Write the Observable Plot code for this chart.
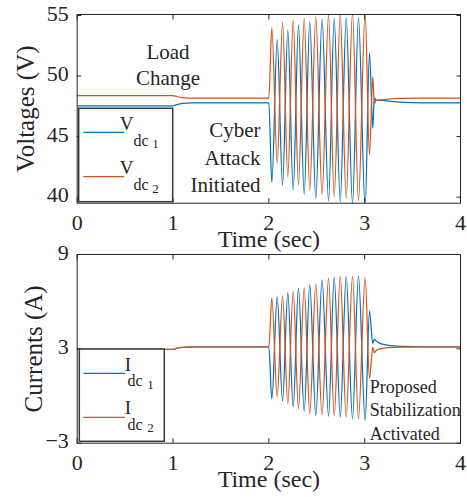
<!DOCTYPE html>
<html><head><meta charset="utf-8">
<script src="https://cdn.jsdelivr.net/npm/d3@7"></script>
<script src="https://cdn.jsdelivr.net/npm/@observablehq/plot@0.6"></script>
<style>
html,body{margin:0;padding:0;background:#fff;}
#wrap{position:relative;width:467px;height:497px;overflow:hidden;}
#wrap svg{position:absolute;left:0;overflow:visible;}
#wrap svg, #wrap svg text{font-family:"Liberation Serif","DejaVu Serif",serif !important;}
</style></head><body><div id="wrap"></div>
<script>
// ---- tick labels ----
const xTicks = [0, 1, 2, 3, 4];
const vTicks = [40, 45, 50, 55];
const iTicks = [-3, 3, 9];

// ---- pre-attack segment ----
const tPre = [0, 1.0, 1.04, 1.1, 1.2, 2.0];
const vdc1Pre = [47.54, 47.54, 47.64, 47.74, 47.79, 47.79];
const vdc2Pre = [48.39, 48.39, 48.31, 48.22, 48.17, 48.17];
const idc1Pre = [2.97, 2.97, 3.04, 3.10, 3.12, 3.12];
const idc2Pre = [2.97, 2.97, 3.04, 3.10, 3.12, 3.12];

// ---- oscillation extrema (times A: Vdc2/Idc2 peaks, times B: Vdc1/Idc1 peaks) ----
const tA = [2.031, 2.143, 2.254, 2.369, 2.490, 2.623, 2.745, 2.873, 3.005];
const tB = [2.087, 2.198, 2.309, 2.427, 2.555, 2.682, 2.807, 2.935, 3.050];
const vdc1A = [41.2, 41.0, 40.6, 40.25, 39.9, 39.7, 39.6, 39.45, 39.2];
const vdc1B = [53.0, 53.8, 54.2, 54.5, 54.7, 54.75, 54.8, 54.85, 51.9];
const vdc2A = [54.0, 54.4, 54.6, 54.75, 54.9, 55.05, 55.1, 55.2, 55.2];
const vdc2B = [42.8, 41.7, 41.0, 40.6, 40.25, 40.05, 39.9, 39.7, 43.5];
const idc1A = [-0.2, -0.33, -0.69, -0.97, -1.23, -1.28, -1.35, -1.44, -1.55];
const idc1B = [6.3, 6.58, 6.86, 7.07, 7.38, 7.54, 7.59, 7.62, 5.4];
const idc2A = [6.22, 6.37, 6.65, 6.9, 7.12, 7.5, 7.59, 7.6, 7.55];
const idc2B = [-0.05, -0.48, -0.8, -1.1, -1.2, -1.25, -1.33, -1.44, 1.12];

// ---- stabilisation segment ----
const tPost = [3.085, 3.1, 3.12, 3.16, 3.25, 3.4, 3.6, 4.0];
const vdc1Post = [45.7, 48.2, 48.0, 48.02, 47.92, 47.82, 47.79, 47.79];
const vdc2Post = [49.95, 47.7, 48.0, 48.02, 48.1, 48.15, 48.17, 48.17];
const idc1Post = [3.35, 3.6, 3.5, 3.35, 3.22, 3.15, 3.12, 3.12];
const idc2Post = [3.1, 2.75, 2.9, 3.0, 3.08, 3.11, 3.12, 3.12];

const BLUE = "#0072BD", ORANGE = "#D95319", INK = "#262626";

function buildRows(preV, vA, vB, postV) {
  const rows = [];
  tPre.forEach((t, i) => rows.push({t, v: preV[i]}));
  tA.forEach((t, i) => rows.push({t, v: vA[i]}));
  tB.forEach((t, i) => rows.push({t, v: vB[i]}));
  tPost.forEach((t, i) => rows.push({t, v: postV[i]}));
  return rows.sort((a, b) => a.t - b.t);
}

function panel({yDomain, yTicks, s1, s2, height, mt, mb, ylabel, ydx, notes}) {
  const blank = () => "";
  return Plot.plot({
    width: 467, height, marginLeft: 76.7, marginRight: 7, marginTop: mt, marginBottom: mb,
    style: {fontSize: "22px", color: INK, overflow: "visible", background: "transparent"},
    x: {domain: [0, 4]},
    y: {domain: yDomain},
    marks: [
      Plot.line(s1, {x: "t", y: "v", stroke: BLUE, strokeWidth: 1.25, curve: "monotone-x", clip: true}),
      Plot.line(s2, {x: "t", y: "v", stroke: ORANGE, strokeWidth: 1.25, curve: "monotone-x", clip: true}),
      Plot.frame({stroke: INK, strokeWidth: 1}),
      Plot.axisX(xTicks, {anchor: "bottom", tickSize: 0, tickPadding: 11, label: null, fontSize: 22}),
      Plot.axisY(yTicks, {anchor: "left", tickSize: 0, tickPadding: 8.4, label: null, fontSize: 22, dy: -2}),
      Plot.axisX(xTicks, {anchor: "bottom", tickSize: -4.5, tickFormat: blank, label: null}),
      Plot.axisX(xTicks, {anchor: "top", tickSize: -4.5, tickFormat: blank, label: null}),
      Plot.axisY(yTicks, {anchor: "left", tickSize: -4.5, tickFormat: blank, label: null}),
      Plot.axisY(yTicks, {anchor: "right", tickSize: -4.5, tickFormat: blank, label: null}),
      Plot.text(["Time (sec)"], {frameAnchor: "bottom", dy: 43.3, lineAnchor: "bottom", fontSize: 24, fill: INK}),
      Plot.text([ylabel], {frameAnchor: "left", rotate: -90, dx: ydx, textAnchor: "middle", lineAnchor: "bottom", fontSize: 25, fill: INK}),
      ...notes
    ]
  });
}

function addLegend(svg, box, rows) {
  const g = d3.select(svg).append("g").attr("fill", INK);
  g.append("rect").attr("x", box.x).attr("y", box.y).attr("width", box.w).attr("height", box.h)
    .attr("fill", "white").attr("stroke", "#3a3a3a").attr("stroke-width", 1.5);
  rows.forEach(r => {
    g.append("line").attr("x1", box.lx1).attr("x2", box.lx2).attr("y1", r.ly).attr("y2", r.ly)
      .attr("stroke", r.color).attr("stroke-width", 1.25);
    g.append("text").attr("x", box.mx).attr("y", r.by).attr("font-size", 19).text(r.main);
    g.append("text").attr("x", box.sx).attr("y", r.by + 15.7).attr("font-size", 16).text("dc");
    g.append("text").attr("x", box.ix).attr("y", r.by + 18.3).attr("font-size", 13).text(r.idx);
  });
}

const wrap = document.getElementById("wrap");

const topSvg = panel({
  yDomain: [39.5, 55.08], yTicks: vTicks,
  s1: buildRows(vdc1Pre, vdc1A, vdc1B, vdc1Post),
  s2: buildRows(vdc2Pre, vdc2A, vdc2B, vdc2Post),
  height: 250, mt: 14, mb: 47.3, ylabel: "Voltages (V)", ydx: -42.7,
  notes: [
    Plot.text(["Load\nChange"], {x: 0.9475, y: 49.22, lineAnchor: "bottom", lineHeight: 1.27, fontSize: 21, fill: INK}),
    Plot.text(["Cyber\nAttack\nInitiated"], {x: 1.9128, y: 40.41, textAnchor: "end", lineAnchor: "bottom", lineHeight: 1.314, fontSize: 21, fill: INK})
  ]
});
topSvg.style.top = "0px";
wrap.appendChild(topSvg);
addLegend(topSvg, {x: 78.7, y: 108.3, w: 94, h: 93.4, lx1: 83.3, lx2: 124.3, mx: 126.7, sx: 141, ix: 155.5},
  [{color: BLUE, ly: 132.3, by: 130, main: "V", idx: "1"}, {color: ORANGE, ly: 176.7, by: 174.3, main: "V", idx: "2"}]);

const OFF = 250;
const bottomSvg = panel({
  yDomain: [-3, 9], yTicks: iTicks,
  s1: buildRows(idc1Pre, idc1A, idc1B, idc1Post),
  s2: buildRows(idc2Pre, idc2A, idc2B, idc2Post),
  height: 247, mt: 4, mb: 54.3, ylabel: "Currents (A)", ydx: -35,
  notes: [
    Plot.text(["Proposed\nStabilization\nActivated"], {x: 3.0533, y: -2.77, textAnchor: "start", lineAnchor: "bottom", lineHeight: 1.296, fontSize: 18, fill: INK})
  ]
});
bottomSvg.style.top = OFF + "px";
wrap.appendChild(bottomSvg);
addLegend(bottomSvg, {x: 79.3, y: 349 - OFF, w: 85, h: 92.3, lx1: 83.3, lx2: 125, mx: 128, sx: 135, ix: 150.5},
  [{color: BLUE, ly: 373.3 - OFF, by: 370.7 - OFF, main: "I", idx: "1"}, {color: ORANGE, ly: 417.3 - OFF, by: 414 - OFF, main: "I", idx: "2"}]);
</script></body></html>
